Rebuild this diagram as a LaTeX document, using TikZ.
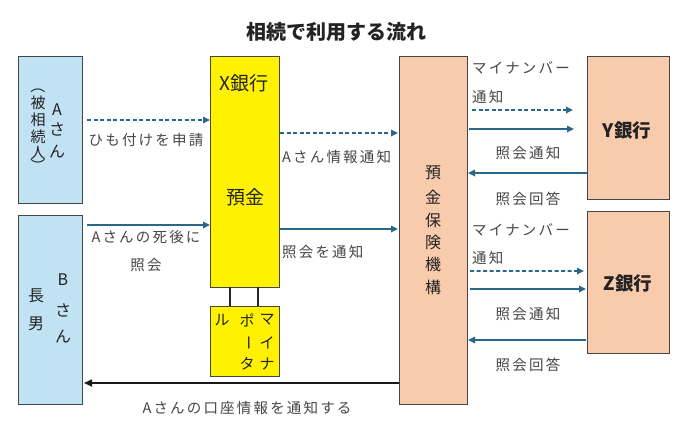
\documentclass[tikz,border=0pt]{standalone}
\usepackage{fontspec}
\setmainfont{Noto Sans CJK JP}
\usetikzlibrary{arrows.meta}
\definecolor{lblue}{RGB}{192,226,243}
\definecolor{salmon}{RGB}{248,203,173}
\definecolor{arrc}{RGB}{40,104,140}
\definecolor{lblc}{RGB}{70,70,70}
\definecolor{bord}{RGB}{70,70,70}
\definecolor{txtc}{RGB}{35,35,35}
\begin{document}
\begin{tikzpicture}[x=1bp,y=-1bp,
 box/.style={draw=bord,line width=1bp,anchor=north west,inner sep=0,outer sep=0},
 flow/.style={draw=arrc,line width=1.6bp,-{Triangle[length=7bp,width=6.5bp]}},
 dflow/.style={flow,dash pattern=on 4bp off 2.5bp},
 lbl/.style={text=lblc,font=\fontsize{14.5bp}{16bp}\selectfont\addfontfeature{LetterSpace=15},inner sep=0},
 vch/.style={inner sep=0,text=txtc,font=\fontsize{16bp}{18bp}\selectfont},
 vsm/.style={inner sep=0,text=txtc,font=\fontsize{15bp}{17bp}\selectfont},
 big/.style={inner sep=0,text=txtc,font=\fontsize{19bp}{21bp}\selectfont},
 bigb/.style={inner sep=0,text=txtc,font=\fontsize{18.5bp}{21bp}\selectfont\bfseries}]
\useasboundingbox[fill=white] (0,0) rectangle (696,427);

% title
\node[inner sep=0,text=txtc,font=\fontsize{20bp}{22bp}\selectfont\bfseries] (title) at (336,32) {相続で利用する流れ};

% boxes
\node[box,fill=lblue,minimum width=64bp,minimum height=147bp] (A) at (18,56) {};
\node[box,fill=lblue,minimum width=64bp,minimum height=189bp] (B) at (18,215) {};
\node[box,fill=yellow,minimum width=69bp,minimum height=231bp] (X) at (210,56) {};
\node[box,fill=yellow,minimum width=69bp,minimum height=70bp] (MP) at (210,306) {};
\node[box,fill=salmon,minimum width=68bp,minimum height=348bp] (D) at (399,56) {};
\node[box,fill=salmon,minimum width=82bp,minimum height=143bp] (Y) at (587,56) {};
\node[box,fill=salmon,minimum width=82bp,minimum height=142bp] (Z) at (587,211) {};

% A box text
\node[vsm,rotate=-90] (ap1) at (38,86) {（};
\node[vsm] (ap2) at (38,103) {被};
\node[vsm] (ap3) at (38,120) {相};
\node[vsm] (ap4) at (38,137) {続};
\node[vsm] (ap5) at (38,153) {人};
\node[vsm,rotate=-90] (ap6) at (38,166) {）};
\node[vch] (aa1) at (57,110) {A};
\node[vch] (aa2) at (57,129) {さ};
\node[vch] (aa3) at (57,152) {ん};

% B box text
\node[vch] (bb1) at (63,280) {B};
\node[vch] (bb2) at (63,310) {さ};
\node[vch] (bb3) at (63,337) {ん};
\node[vch] (bc1) at (36,296) {長};
\node[vch] (bc2) at (36,324) {男};

% X bank text
\node[big] (xt1) at (244,83) {X銀行};
\node[big] (xt2) at (245,197) {預金};

% Myna portal text
\node[vsm] (m1) at (267,320) {マ};
\node[vsm] (m2) at (267,343) {イ};
\node[vsm] (m3) at (267,364) {ナ};
\node[vsm] (m4) at (247,320) {ポ};
\node[vsm,rotate=-90] (m5) at (247,343) {ー};
\node[vsm] (m6) at (247,364) {タ};
\node[vsm] (m7) at (222,320) {ル};

% DIC text
\node[vch] (d1) at (433,173) {預};
\node[vch] (d2) at (433,197) {金};
\node[vch] (d3) at (433,220) {保};
\node[vch] (d4) at (433,242) {険};
\node[vch] (d5) at (433,264) {機};
\node[vch] (d6) at (433,287) {構};

% Y / Z
\node[bigb] (yt) at (627,130) {Y銀行};
\node[bigb] (zt) at (628,283) {Z銀行};

% connectors X -- MP
\draw[line width=1.5bp,draw=black!85] ([xshift=-14.5bp]X.south) -- ([xshift=-14.5bp]MP.north);
\draw[line width=1.5bp,draw=black!85] ([xshift=13.5bp]X.south) -- ([xshift=13.5bp]MP.north);

% arrows
\draw[dflow] ([xshift=5bp,yshift=-64bp]A.north east) -- ([yshift=-64bp]X.north west);
\draw[flow] ([xshift=5bp,yshift=-10bp]B.north east) -- ([yshift=-169bp]X.north west);
\draw[dflow] ([xshift=1bp,yshift=-77bp]X.north east) -- ([xshift=-1bp,yshift=-77bp]D.north west);
\draw[flow] ([xshift=1bp,yshift=-173bp]X.north east) -- ([xshift=-1bp,yshift=-173bp]D.north west);
\draw[dflow] ([xshift=5bp,yshift=-54bp]D.north east) -- ([xshift=-14bp,yshift=-54bp]Y.north west);
\draw[flow] ([xshift=2bp,yshift=-73bp]D.north east) -- ([xshift=-13bp,yshift=-73bp]Y.north west);
\draw[flow] ([yshift=-117bp]Y.north west) -- ([xshift=1bp,yshift=-117bp]D.north east);
\draw[dflow] ([xshift=3bp,yshift=-215bp]D.north east) -- ([xshift=-3bp,yshift=-60bp]Z.north west);
\draw[flow] ([xshift=3bp,yshift=-233bp]D.north east) -- ([xshift=-1bp,yshift=-78bp]Z.north west);
\draw[flow] ([xshift=-1bp,yshift=-129bp]Z.north west) -- ([xshift=1bp,yshift=-284bp]D.north east);
\draw[line width=1.6bp,draw=black!90,-{Triangle[length=8bp,width=7bp]}] ([yshift=-327bp]D.north west) -- ([xshift=2bp,yshift=-168bp]B.north east);

% labels
\node[lbl] (l1) at (146,140) {ひも付けを申請};
\node[lbl] (l2) at (146,237) {Aさんの死後に};
\node[lbl] (l3) at (146,265) {照会};
\node[lbl,anchor=west] (l4) at (282,157) {Aさん情報通知};
\node[lbl,anchor=west] (l5) at (282,252) {照会を通知};
\node[lbl,anchor=west] (l6) at (472,68) {マイナンバー};
\node[lbl,anchor=west] (l7) at (472,97) {通知};
\node[lbl] (l8) at (528,153) {照会通知};
\node[lbl] (l9) at (528,199) {照会回答};
\node[lbl,anchor=west] (l10) at (472,230) {マイナンバー};
\node[lbl,anchor=west] (l11) at (472,258) {通知};
\node[lbl] (l12) at (528,314) {照会通知};
\node[lbl] (l13) at (528,365) {照会回答};
\node[lbl] (l14) at (247,408) {Aさんの口座情報を通知する};
\end{tikzpicture}
\end{document}
